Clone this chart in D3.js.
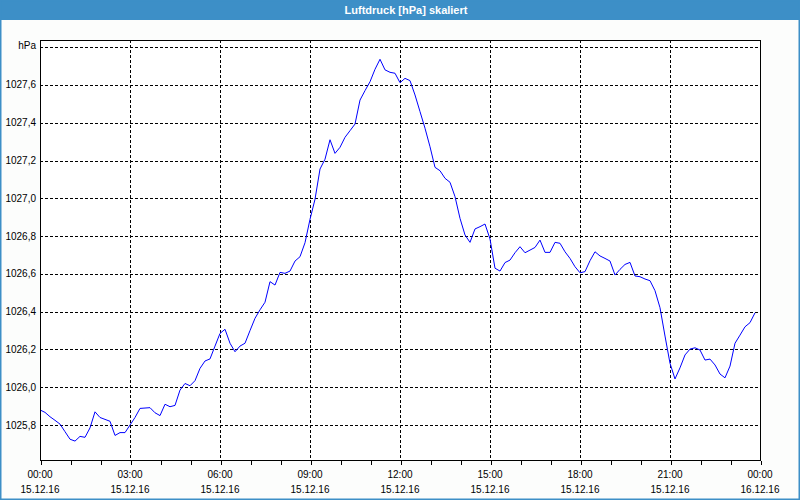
<!DOCTYPE html>
<html><head><meta charset="utf-8">
<script src="https://cdn.jsdelivr.net/npm/d3@7"></script>
<style>
html,body{margin:0;padding:0;background:#fcfdfc;}
svg{display:block;}
text{font-family:"Liberation Sans",Arial,sans-serif;}
</style></head>
<body>
<script>
const title = "Luftdruck [hPa] skaliert";
const unitLabel = "hPa";
const times = [
"00:00","00:10","00:20","00:30","00:40","00:50","01:00","01:10","01:20","01:30","01:40","01:50",
"02:00","02:10","02:20","02:30","02:40","02:50","03:00","03:10","03:20","03:30","03:40","03:50",
"04:00","04:10","04:20","04:30","04:40","04:50","05:00","05:10","05:20","05:30","05:40","05:50",
"06:00","06:10","06:20","06:30","06:40","06:50","07:00","07:10","07:20","07:30","07:40","07:50",
"08:00","08:10","08:20","08:30","08:40","08:50","09:00","09:10","09:20","09:30","09:40","09:50",
"10:00","10:10","10:20","10:30","10:40","10:50","11:00","11:10","11:20","11:30","11:40","11:50",
"12:00","12:10","12:20","12:30","12:40","12:50","13:00","13:10","13:20","13:30","13:40","13:50",
"14:00","14:10","14:20","14:30","14:40","14:50","15:00","15:10","15:20","15:30","15:40","15:50",
"16:00","16:10","16:20","16:30","16:40","16:50","17:00","17:10","17:20","17:30","17:40","17:50",
"18:00","18:10","18:20","18:30","18:40","18:50","19:00","19:10","19:20","19:30","19:40","19:50",
"20:00","20:10","20:20","20:30","20:40","20:50","21:00","21:10","21:20","21:30","21:40","21:50",
"22:00","22:10","22:20","22:30","22:40","22:50","23:00","23:10","23:20","23:30","23:40","23:50"];
const pressure = [
1025.880,1025.867,1025.844,1025.825,1025.805,1025.765,1025.725,1025.715,1025.740,1025.735,1025.785,1025.870,
1025.840,1025.830,1025.820,1025.745,1025.760,1025.760,1025.800,1025.840,1025.888,1025.890,1025.892,1025.865,
1025.850,1025.910,1025.897,1025.904,1025.985,1026.020,1026.008,1026.035,1026.100,1026.139,1026.150,1026.218,
1026.285,1026.307,1026.233,1026.188,1026.218,1026.233,1026.300,1026.365,1026.410,1026.450,1026.559,1026.541,
1026.608,1026.603,1026.615,1026.668,1026.691,1026.765,1026.889,1026.995,1027.155,1027.207,1027.310,1027.238,
1027.270,1027.323,1027.358,1027.393,1027.520,1027.570,1027.617,1027.683,1027.736,1027.680,1027.667,1027.662,
1027.612,1027.635,1027.623,1027.547,1027.459,1027.371,1027.273,1027.164,1027.146,1027.106,1027.085,1027.009,
1026.894,1026.806,1026.767,1026.838,1026.850,1026.864,1026.785,1026.630,1026.615,1026.660,1026.673,1026.712,
1026.744,1026.712,1026.726,1026.740,1026.779,1026.714,1026.714,1026.767,1026.762,1026.717,1026.682,1026.638,
1026.606,1026.612,1026.670,1026.717,1026.695,1026.682,1026.668,1026.594,1026.624,1026.650,1026.661,1026.589,
1026.585,1026.573,1026.564,1026.511,1026.421,1026.271,1026.127,1026.044,1026.103,1026.171,1026.202,1026.209,
1026.197,1026.144,1026.149,1026.118,1026.070,1026.050,1026.112,1026.233,1026.276,1026.320,1026.342,1026.394];
const yTicks = [1025.8,1026.0,1026.2,1026.4,1026.6,1026.8,1027.0,1027.2,1027.4,1027.6,1027.8];
const xTickTimes = ["2016-12-15T00:00","2016-12-15T03:00","2016-12-15T06:00","2016-12-15T09:00","2016-12-15T12:00","2016-12-15T15:00","2016-12-15T18:00","2016-12-15T21:00","2016-12-16T00:00"];
const xTickTimeLabels = ["00:00","03:00","06:00","09:00","12:00","15:00","18:00","21:00","00:00"];
const xTickDateLabels = ["15.12.16","15.12.16","15.12.16","15.12.16","15.12.16","15.12.16","15.12.16","15.12.16","16.12.16"];
const dayStart = "2016-12-15T00:00";
const dayEnd = "2016-12-16T00:00";
const yDomain = [1025.615, 1027.838];

const W = 800, H = 500;
const m = {left:40, right:760, top:40, bottom:460};
const parse = d3.timeParse("%Y-%m-%dT%H:%M");
const data = times.map((t,i)=>({t:parse("2016-12-15T"+t), v:pressure[i]}));

const svg = d3.select("body").append("svg").attr("width",W).attr("height",H);
svg.append("rect").attr("width",W).attr("height",H).attr("fill","#fcfdfc");

// title bar
svg.append("rect").attr("x",0).attr("y",0).attr("width",W).attr("height",20).attr("fill","#3d8fc7");
svg.append("text").attr("x",W/2+6).attr("y",14).attr("text-anchor","middle")
  .attr("fill","#ffffff").attr("font-size","11px").attr("font-weight","bold").text(title);
// window border
svg.append("rect").attr("x",0.75).attr("y",0.75).attr("width",W-1.5).attr("height",H-1.5)
  .attr("fill","none").attr("stroke","#3d8fc7").attr("stroke-width",1.5);

const x = d3.scaleTime().domain([parse(dayStart), parse(dayEnd)]).range([m.left, m.right]);
const y = d3.scaleLinear().domain(yDomain).range([m.bottom, m.top]);

svg.append("rect").attr("x",m.left).attr("y",m.top).attr("width",m.right-m.left).attr("height",m.bottom-m.top).attr("fill","#ffffff");

// grid lines
const g = svg.append("g").attr("shape-rendering","crispEdges");
g.selectAll("line.h").data(yTicks).join("line")
  .attr("x1",m.left).attr("x2",m.right)
  .attr("y1",d=>Math.round(y(d))+0.5).attr("y2",d=>Math.round(y(d))+0.5)
  .attr("stroke","#000").attr("stroke-dasharray","3,2");
const innerX = xTickTimes.slice(1,-1).map(parse);
g.selectAll("line.v").data(innerX).join("line")
  .attr("y1",m.top).attr("y2",m.bottom)
  .attr("x1",d=>Math.round(x(d))+0.5).attr("x2",d=>Math.round(x(d))+0.5)
  .attr("stroke","#000").attr("stroke-dasharray","3,2");

// line
const line = d3.line().x(d=>x(d.t)).y(d=>y(d.v));
svg.append("path").datum(data).attr("d",line).attr("fill","none")
  .attr("stroke","#0000ff").attr("stroke-width",1);

// frame
svg.append("rect").attr("x",m.left+0.5).attr("y",m.top+0.5).attr("width",m.right-m.left).attr("height",m.bottom-m.top)
  .attr("fill","none").attr("stroke","#000").attr("stroke-width",1).attr("shape-rendering","crispEdges");

// x axis: hourly minor ticks
const xAxis = d3.axisBottom(x).ticks(d3.timeHour.every(1)).tickSize(4).tickFormat("");
const xa = svg.append("g").attr("transform",`translate(0.5,${m.bottom+0.5})`).call(xAxis);
xa.select(".domain").remove();
xa.selectAll("line").attr("stroke","#000").attr("shape-rendering","crispEdges");

const lab = svg.append("g").attr("font-size","10px").attr("fill","#000");
xTickTimes.forEach((s,i)=>{
  const px = x(parse(s));
  lab.append("text").attr("x",px).attr("y",478).attr("text-anchor","middle").text(xTickTimeLabels[i]);
  lab.append("text").attr("x",px).attr("y",493).attr("text-anchor","middle").text(xTickDateLabels[i]);
});

// y axis labels
const fmt = d => d3.format(".1f")(d).replace(".",",");
yTicks.forEach((d,i)=>{
  const last = i === yTicks.length-1;
  lab.append("text").attr("x",36).attr("y",y(d)+(last?1.5:3.5)).attr("text-anchor","end")
    .text(last ? unitLabel : fmt(d));
});
</script>
</body></html>
